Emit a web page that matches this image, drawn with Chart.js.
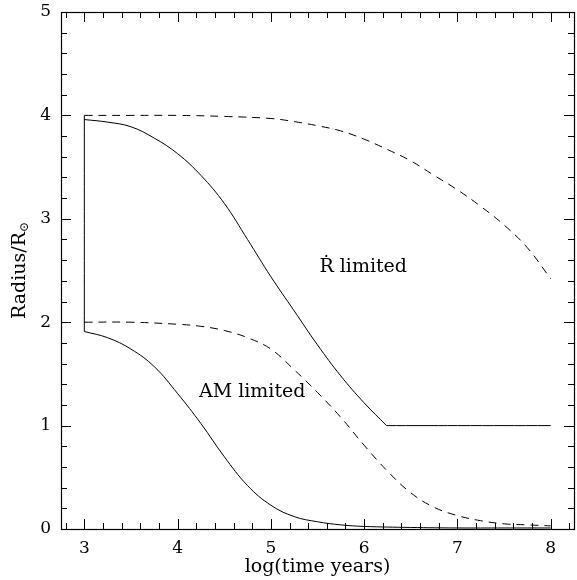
<!DOCTYPE html>
<html>
<head>
<meta charset="utf-8">
<script src="https://cdn.jsdelivr.net/npm/chart.js@4"></script>
<style>
  html, body { margin: 0; padding: 0; background: #fff; }
</style>
</head>
<body>
<canvas id="radiusChart" width="577" height="580"></canvas>
<script>
const ctx = document.getElementById('radiusChart').getContext('2d');

// Axis ranges and ticks
const X_MIN = 2.75;
const X_MAX = 8.25;
const Y_MIN = 0;
const Y_MAX = 5;
const xTicks = [3, 4, 5, 6, 7, 8];
const yTicks = [0, 1, 2, 3, 4, 5];

// Rdot limited (upper) curves
const upperSolidX = [3, 3.25, 3.5, 3.75, 4, 4.25, 4.5, 4.75, 5, 5.25, 5.5, 5.75, 6, 6.24];
const upperSolidY = [3.96, 3.935, 3.89, 3.78, 3.63, 3.42, 3.15, 2.8, 2.44, 2.11, 1.78, 1.48, 1.22, 1.0];
const floorX = [6.24, 7, 8];
const floorY = [1.0, 1.0, 1.0];
const upperDashX = [3, 3.5, 4, 4.5, 5, 5.25, 5.5, 5.75, 6, 6.25, 6.5, 6.75, 7, 7.25, 7.5, 7.75, 8];
const upperDashY = [4.0, 4.0, 4.0, 3.99, 3.97, 3.94, 3.9, 3.85, 3.77, 3.67, 3.56, 3.42, 3.28, 3.12, 2.94, 2.72, 2.42];

// AM limited (lower) curves
const edgeX = [3, 3];
const edgeY = [4.0, 1.91];
const lowerSolidX = [3, 3.25, 3.5, 3.75, 4, 4.25, 4.5, 4.75, 5, 5.25, 5.5, 5.75, 6, 6.5, 7, 7.5, 8];
const lowerSolidY = [1.91, 1.85, 1.74, 1.57, 1.31, 1.02, 0.7, 0.42, 0.23, 0.12, 0.07, 0.04, 0.025, 0.015, 0.01, 0.01, 0.01];
const lowerDashX = [3, 3.5, 4, 4.25, 4.5, 4.75, 5, 5.25, 5.5, 5.75, 6, 6.25, 6.5, 6.75, 7, 7.25, 7.5, 7.75, 8];
const lowerDashY = [2.0, 2.0, 1.98, 1.96, 1.92, 1.85, 1.74, 1.54, 1.32, 1.08, 0.81, 0.56, 0.35, 0.21, 0.13, 0.08, 0.05, 0.04, 0.03];

// Labels inside the plot (data coordinates)
const notes = [
  { text: 'Ṙ limited', x: 5.99, y: 2.53 },
  { text: 'AM limited', x: 4.8, y: 1.32 }
];

const SERIF = '"DejaVu Serif", "Liberation Serif", serif';

function toPoints(xs, ys) {
  return xs.map((x, i) => ({ x, y: ys[i] }));
}

function lineSet(label, xs, ys, dashed) {
  return {
    label,
    data: toPoints(xs, ys),
    borderColor: '#000',
    borderWidth: 1,
    borderDash: dashed ? [8, 6] : [],
    pointRadius: 0,
    fill: false,
    tension: 0.4
  };
}

// frame, inward ticks, titles and notes
const framePlugin = {
  id: 'framePlugin',
  afterDraw(chart) {
    const { ctx: c, chartArea: a, scales: { x, y } } = chart;
    c.save();
    c.strokeStyle = '#000';
    c.lineWidth = 1.2;
    c.strokeRect(a.left + 0.5, a.top + 0.5, a.right - a.left, a.bottom - a.top);

    c.lineWidth = 1;
    c.beginPath();
    for (let i = 14; i <= 41; i++) {
      const px = Math.round(x.getPixelForValue(i / 5)) + 0.5;
      const len = i % 5 === 0 ? 10 : 6;
      c.moveTo(px, a.bottom); c.lineTo(px, a.bottom - len);
      c.moveTo(px, a.top); c.lineTo(px, a.top + len);
    }
    for (let i = 1; i < 25; i++) {
      const py = Math.round(y.getPixelForValue(i / 5)) + 0.5;
      const len = i % 5 === 0 ? 10 : 6;
      c.moveTo(a.left, py); c.lineTo(a.left + len, py);
      c.moveTo(a.right, py); c.lineTo(a.right - len, py);
    }
    c.stroke();

    c.fillStyle = '#000';
    c.textBaseline = 'middle';
    c.textAlign = 'center';
    c.font = '19px ' + SERIF;
    notes.forEach(n => c.fillText(n.text, x.getPixelForValue(n.x), y.getPixelForValue(n.y)));

    // x title
    c.fillText('log(time years)', (a.left + a.right) / 2, 567);

    // y title with sun subscript
    c.translate(20, (a.top + a.bottom) / 2);
    c.rotate(-Math.PI / 2);
    const main = 'Radius/R';
    c.font = '19px ' + SERIF;
    const w1 = c.measureText(main).width;
    c.font = '12px ' + SERIF;
    const w2 = c.measureText('⊙').width;
    const start = -(w1 + w2) / 2;
    c.textAlign = 'left';
    c.font = '19px ' + SERIF;
    c.fillText(main, start, 0);
    c.font = '12px ' + SERIF;
    c.fillText('⊙', start + w1, 5);
    c.restore();
  }
};

const radiusChart = new Chart(ctx, {
  type: 'line',
  data: {
    datasets: [
      lineSet('Rdot limited', upperSolidX, upperSolidY, false),
      lineSet('floor', floorX, floorY, false),
      lineSet('upper dashed', upperDashX, upperDashY, true),
      lineSet('edge', edgeX, edgeY, false),
      lineSet('AM limited', lowerSolidX, lowerSolidY, false),
      lineSet('lower dashed', lowerDashX, lowerDashY, true)
    ]
  },
  options: {
    responsive: false,
    animation: false,
    layout: { padding: { top: 12, right: 3, left: 0, bottom: 0 } },
    plugins: {
      legend: { display: false },
      tooltip: { enabled: false }
    },
    scales: {
      x: {
        type: 'linear',
        min: X_MIN,
        max: X_MAX,
        afterBuildTicks: axis => { axis.ticks = xTicks.map(v => ({ value: v })); },
        afterFit: scale => { scale.height = 51; scale.paddingLeft = 0; scale.paddingRight = 0; },
        grid: { display: false, drawTicks: false },
        border: { display: false },
        ticks: { padding: 9, color: '#000', font: { family: SERIF, size: 17 }, maxRotation: 0 }
      },
      y: {
        type: 'linear',
        min: Y_MIN,
        max: Y_MAX,
        afterBuildTicks: axis => { axis.ticks = yTicks.map(v => ({ value: v })); },
        afterFit: scale => { scale.width = 61; scale.paddingTop = 0; scale.paddingBottom = 0; },
        grid: { display: false, drawTicks: false },
        border: { display: false },
        ticks: { padding: 10, color: '#000', font: { family: SERIF, size: 17 } }
      }
    }
  },
  plugins: [framePlugin]
});
</script>
</body>
</html>
